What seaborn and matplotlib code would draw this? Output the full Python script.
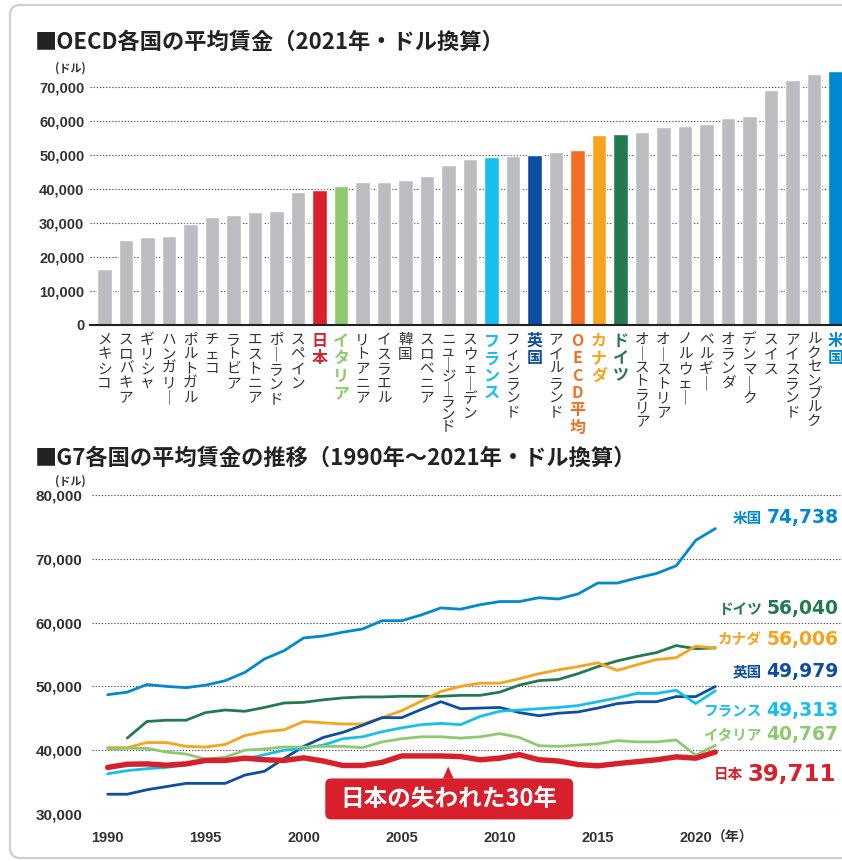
import numpy as np
import pandas as pd
import matplotlib
matplotlib.use("Agg")
import matplotlib.pyplot as plt
import seaborn as sns
from matplotlib.patches import FancyBboxPatch, Polygon
from matplotlib.transforms import ScaledTranslation

sns.set_theme(style="white")
plt.rcParams["font.family"] = ["Noto Sans CJK JP", "DejaVu Sans"]

# ---------------- data ----------------
countries = ["メキシコ", "スロバキア", "ギリシャ", "ハンガリー", "ポルトガル", "チェコ", "ラトビア",
             "エストニア", "ポーランド", "スペイン", "日本", "イタリア", "リトアニア", "イスラエル",
             "韓国", "スロベニア", "ニュージーランド", "スウェーデン", "フランス", "フィンランド",
             "英国", "アイルランド", "OECD平均", "カナダ", "ドイツ", "オーストラリア", "オーストリア",
             "ノルウェー", "ベルギー", "オランダ", "デンマーク", "スイス", "アイスランド",
             "ルクセンブルク", "米国"]
wages_2021 = [16600, 25100, 25900, 26300, 29600, 31800, 32400, 33300, 33600, 39200,
              39711, 40767, 42100, 42100, 42700, 43800, 47100, 48800, 49313, 49800,
              49979, 50900, 51600, 56006, 56040, 56700, 58200, 58500, 59100, 60800,
              61400, 69000, 72000, 73700, 74738]

years = list(range(1990, 2022))
us = [48700, 49100, 50300, 50000, 49800, 50200, 50900, 52200, 54300, 55600, 57600, 57900,
      58500, 59000, 60300, 60300, 61200, 62300, 62100, 62800, 63300, 63300, 63900, 63700,
      64500, 66200, 66200, 67000, 67700, 68900, 72900, 74738]
germany = [np.nan, 41900, 44500, 44700, 44700, 45900, 46300, 46100, 46700, 47400, 47500, 47900,
           48200, 48350, 48350, 48450, 48450, 48450, 48600, 48600, 49100, 50200, 50900, 51100,
           52000, 53100, 54000, 54700, 55300, 56400, 55900, 56040]
canada = [40400, 40400, 41200, 41200, 40600, 40500, 40900, 42300, 42900, 43200, 44500, 44300,
          44100, 44100, 45100, 46200, 47700, 49200, 50000, 50500, 50500, 51200, 52000, 52600,
          53100, 53700, 52500, 53400, 54200, 54500, 56300, 56006]
uk = [33100, 33100, 33800, 34300, 34800, 34800, 34800, 36100, 36700, 38700, 40600, 42000,
      42800, 43900, 45100, 45100, 46400, 47600, 46500, 46600, 46700, 45900, 45400, 45800,
      46000, 46600, 47300, 47600, 47600, 48400, 48400, 49979]
france = [36300, 36800, 37100, 37300, 37700, 38300, 38500, 38600, 39300, 40000, 40300, 40800,
          41800, 42100, 42900, 43500, 44000, 44200, 44000, 45300, 46100, 46300, 46500, 46700,
          47000, 47600, 48200, 48900, 48900, 49400, 47300, 49313]
italy = [40200, 40300, 40300, 39700, 39400, 38600, 38900, 40000, 40200, 40500, 40500, 40600,
         40600, 40400, 41300, 41800, 42100, 42100, 41900, 42100, 42600, 42000, 40700, 40600,
         40800, 41000, 41500, 41300, 41300, 41600, 39200, 40767]
japan = [37300, 37800, 37850, 37650, 37850, 38400, 38400, 38750, 38500, 38400, 38800, 38300,
         37600, 37600, 38100, 39100, 39100, 39100, 39000, 38500, 38750, 39300, 38500, 38300,
         37750, 37550, 37900, 38200, 38500, 38950, 38750, 39711]

g7_names = ["米国", "ドイツ", "カナダ", "英国", "フランス", "イタリア", "日本"]
g7_series = [us, germany, canada, uk, france, italy, japan]
g7_final = ["74,738", "56,040", "56,006", "49,979", "49,313", "40,767", "39,711"]

# ---------------- style ----------------
GRAY = "#bcbdc0"
TXT = "#333333"
COL = {"日本": "#d7202b", "イタリア": "#8dc96f", "フランス": "#17bfee", "英国": "#0d4ea2",
       "OECD平均": "#f26e24", "カナダ": "#f6a31d", "ドイツ": "#247a4f", "米国": "#0088d1"}
NUMFONT = ["Liberation Sans", "DejaVu Sans"]
W, H = 842, 861

fig = plt.figure(figsize=(W / 100, H / 100), dpi=100)


def rect(l, t, r, b):
    return [l / W, 1 - b / H, (r - l) / W, (b - t) / H]


# outer frame
fig.patches.append(FancyBboxPatch((10 / W, 1 - 858 / H), 1000 / W, 853 / H,
                                  boxstyle="round,pad=0,rounding_size=0.012",
                                  transform=fig.transFigure, fill=False,
                                  ec="#cfcfcf", lw=1.6))

# titles
fig.text(35 / W, 1 - 42 / H, "■OECD各国の平均賃金（2021年・ドル換算）", fontsize=16,
         fontweight="bold", color="#222222", va="center", ha="left")
fig.text(35 / W, 1 - 458 / H, "■G7各国の平均賃金の推移（1990年～2021年・ドル換算）", fontsize=16,
         fontweight="bold", color="#222222", va="center", ha="left")
fig.text(70 / W, 1 - 68 / H, "(ドル)", fontsize=8, fontweight="bold", color=TXT,
         ha="center", va="center")
fig.text(70 / W, 1 - 481 / H, "(ドル)", fontsize=8, fontweight="bold", color=TXT,
         ha="center", va="center")

# ---------------- bar chart ----------------
ax1 = fig.add_axes(rect(90, 70, 842, 325))
df_bar = pd.DataFrame({"country": countries, "wage": wages_2021})
pal = {c: COL.get(c, GRAY) for c in countries}
sns.barplot(data=df_bar, x="country", y="wage", hue="country", palette=pal, legend=False,
            width=0.66, saturation=1, ax=ax1)
ax1.set_xlim(-0.67, 34.3)
ax1.set_ylim(0, 75000)
ax1.set_yticks(range(0, 70001, 10000))
ax1.set_yticklabels([f"{v:,}" for v in range(0, 70001, 10000)])
ax1.set_xticks([])
ax1.set_xlabel("")
ax1.set_ylabel("")
ax1.yaxis.grid(True, linestyle=(0, (1.2, 1.6)), color="#555555", lw=0.8)
ax1.set_axisbelow(True)
for s in ["top", "right", "left"]:
    ax1.spines[s].set_visible(False)
ax1.spines["bottom"].set_color("#222222")
ax1.spines["bottom"].set_linewidth(1.5)
ax1.tick_params(axis="y", length=0, pad=4, labelsize=10.5, labelcolor=TXT)
for lbl in ax1.get_yticklabels():
    lbl.set_fontfamily(NUMFONT)
    lbl.set_fontweight("bold")

# vertical (tategaki) category labels, one text per country
xt = ax1.get_xaxis_transform()
off = ScaledTranslation(0, -8 / 100, fig.dpi_scale_trans)
for i, name in enumerate(countries):
    bold = name in COL
    color = COL.get(name, TXT)
    n = len(name)
    if bold:
        size, ls = 11.5, 1.1
    else:
        size = 10.5
        ls = min(1.05, 1.05 * 6.4 / n)
    vert = "\n".join("｜" if ch == "ー" else ch for ch in name)
    ax1.text(i, 0, vert, transform=xt + off, ha="center", va="top", fontsize=size,
             color=color, fontweight="bold" if bold else "normal", linespacing=ls,
             multialignment="center", clip_on=False)

# ---------------- line chart ----------------
ax2 = fig.add_axes(rect(92, 495, 842, 814))
rows = []
for name, vals in zip(g7_names, g7_series):
    for y, v in zip(years, vals):
        rows.append({"country": name, "year": y, "wage": v})
df_line = pd.DataFrame(rows)
others = df_line[df_line["country"] != "日本"]
sns.lineplot(data=others, x="year", y="wage", hue="country",
             palette={c: COL[c] for c in g7_names if c != "日本"},
             estimator=None, errorbar=None, linewidth=2.0, legend=False, ax=ax2)
sns.lineplot(data=df_line[df_line["country"] == "日本"], x="year", y="wage",
             color=COL["日本"], estimator=None, errorbar=None, linewidth=3.9,
             legend=False, ax=ax2)
ax2.set_xlim(1989.2, 2027.46)
ax2.set_ylim(30000, 80000)
ax2.set_yticks(range(30000, 80001, 10000))
ax2.set_yticklabels([f"{v:,}" for v in range(30000, 80001, 10000)])
ax2.set_xticks(range(1990, 2021, 5))
ax2.set_xlabel("")
ax2.set_ylabel("")
ax2.yaxis.grid(True, linestyle=(0, (1.2, 1.6)), color="#555555", lw=0.8)
ax2.set_axisbelow(True)
for s in ax2.spines.values():
    s.set_visible(False)
ax2.tick_params(axis="y", length=0, pad=7, labelsize=11, labelcolor=TXT)
ax2.tick_params(axis="x", length=0, pad=12, labelsize=10.5, labelcolor=TXT)
for lbl in ax2.get_yticklabels() + ax2.get_xticklabels():
    lbl.set_fontfamily(NUMFONT)
    lbl.set_fontweight("bold")
off_year = ScaledTranslation(0, -16.5 / 100, fig.dpi_scale_trans)
ax2.text(2020.8, 0, "（年）", transform=ax2.get_xaxis_transform() + off_year,
         ha="left", va="top", fontsize=10, fontweight="bold", color=TXT)

# end labels
label_y = [76420, 62170, 57320, 52320, 46210, 42460, 36200]
for name, val, ly in zip(g7_names, g7_final, label_y):
    c = COL[name]
    if name == "日本":
        ax2.text(2022.4, ly, name, ha="right", va="center", fontsize=10.5,
                 fontweight="bold", color=c, clip_on=False)
        ax2.text(2022.65, ly, val, ha="left", va="center", fontsize=16.5,
                 fontweight="bold", color=c, family=["DejaVu Sans"], clip_on=False)
    else:
        ax2.text(2023.38, ly, name, ha="right", va="center", fontsize=10.5,
                 fontweight="bold", color=c, clip_on=False)
        ax2.text(2023.6, ly, val, ha="left", va="center", fontsize=13.5,
                 fontweight="bold", color=c, family=["DejaVu Sans"], clip_on=False)

# callout
RED = COL["日本"]
bx0, bx1, by0, by1 = 2001.1, 2013.75, 29150, 35570
ax2.add_patch(FancyBboxPatch((bx0, by0), bx1 - bx0, by1 - by0,
                             boxstyle="round,pad=0,rounding_size=0.3",
                             mutation_aspect=3070, fc=RED, ec="none",
                             clip_on=False, zorder=6))
ax2.add_patch(Polygon([[2007.1, by1 - 50], [2007.65, by1 - 50], [2007.37, 37450]],
                      closed=True, fc=RED, ec="none", clip_on=False, zorder=6))
ax2.text((bx0 + bx1) / 2, (by0 + by1) / 2, "日本の失われた30年", ha="center", va="center",
         fontsize=17, fontweight="bold", color="white", zorder=7, clip_on=False)

fig.savefig("out.png", dpi=100)
